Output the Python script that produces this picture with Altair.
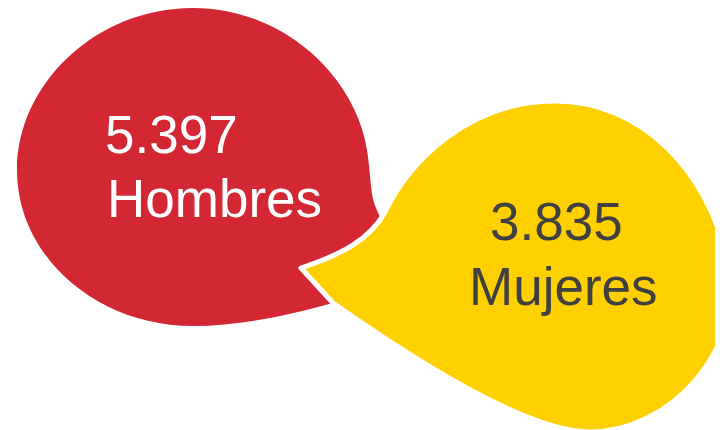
import altair as alt
import pandas as pd

# ---- data ----
categories = ["Hombres", "Mujeres"]
values = [5397, 3835]

df = pd.DataFrame({"category": categories, "value": values})

# ---- styles ----
RED = "#D32734"
YELLOW = "#FFD000"
DARK = "#404040"
FONT = "Liberation Sans"

# anchor points of each bubble (page px) -> used only to express shapes relative to anchor
ANCH = {"Hombres": (195, 170), "Mujeres": (560, 290)}


def shape_path(cmds, ax, ay):
    out = []
    for cmd in cmds:
        op, *nums = cmd
        pts = [f"{nums[i] - ax:g},{nums[i + 1] - ay:g}" for i in range(0, len(nums), 2)]
        out.append(op + " ".join(pts))
    return " ".join(out)


red_cmds = [
    ("M", 193, 8),
    ("C", 282, 8, 355, 75, 367, 150),
    ("C", 371, 175, 370, 195, 376, 208),
    ("L", 382, 222),
    ("L", 400, 262),
    ("L", 350, 300),
    ("L", 333, 303),
    ("C", 290, 315, 240, 326, 193, 326),
    ("C", 96, 326, 17, 256, 17, 170),
    ("C", 17, 85, 95, 8, 193, 8),
    ("Z",),
]
yellow_cmds = [
    ("M", 301, 268),
    ("C", 340, 255, 370, 240, 385, 212),
    ("C", 410, 160, 470, 101, 555, 101),
    ("C", 640, 101, 710, 170, 728, 265),
    ("C", 745, 350, 670, 432, 590, 432),
    ("C", 540, 432, 450, 385, 333, 303),
    ("Z",),
]
red_path = shape_path(red_cmds, *ANCH["Hombres"])
yellow_path = shape_path(yellow_cmds, *ANCH["Mujeres"])

xs = alt.Scale(domain=categories, range=[ANCH["Hombres"][0] - 8, ANCH["Mujeres"][0] - 8], padding=0)
ys = alt.Scale(domain=categories, range=[ANCH["Hombres"][1] - 8, ANCH["Mujeres"][1] - 8], padding=0)

X = alt.X("category:N", scale=xs, axis=None)
Y = alt.Y("category:N", scale=ys, axis=None)

base = alt.Chart(df).transform_calculate(
    label="replace(format(datum.value, ','), ',', '.')"
)

bubbles = base.mark_point(filled=True, size=4, opacity=1, strokeWidth=5, strokeJoin="round").encode(
    x=X,
    y=Y,
    shape=alt.Shape("category:N", scale=alt.Scale(domain=categories, range=[red_path, yellow_path]), legend=None),
    fill=alt.Fill("category:N", scale=alt.Scale(domain=categories, range=[RED, YELLOW]), legend=None),
    stroke=alt.Stroke("category:N", scale=alt.Scale(domain=categories, range=["transparent", "#FFFFFF"]), legend=None),
)


def txt(cat, field, dx, dy, color):
    return base.transform_filter(alt.datum.category == cat).mark_text(
        font=FONT, fontSize=53, align="left", baseline="alphabetic", dx=dx, dy=dy, color=color
    ).encode(x=X, y=Y, text=f"{field}:N")


texts = [
    txt("Hombres", "label", -90, -17, "white"),
    txt("Hombres", "category", -88, 47, "white"),
    txt("Mujeres", "label", -70, -50, DARK),
    txt("Mujeres", "category", -91, 15, DARK),
]

chart = alt.layer(bubbles, *texts).properties(
    width=707, height=422, padding=0, autosize=alt.AutoSizeParams(type="none")
).configure_view(stroke=None)

chart.save("out.html", embed_options={"renderer": "svg", "actions": False})
